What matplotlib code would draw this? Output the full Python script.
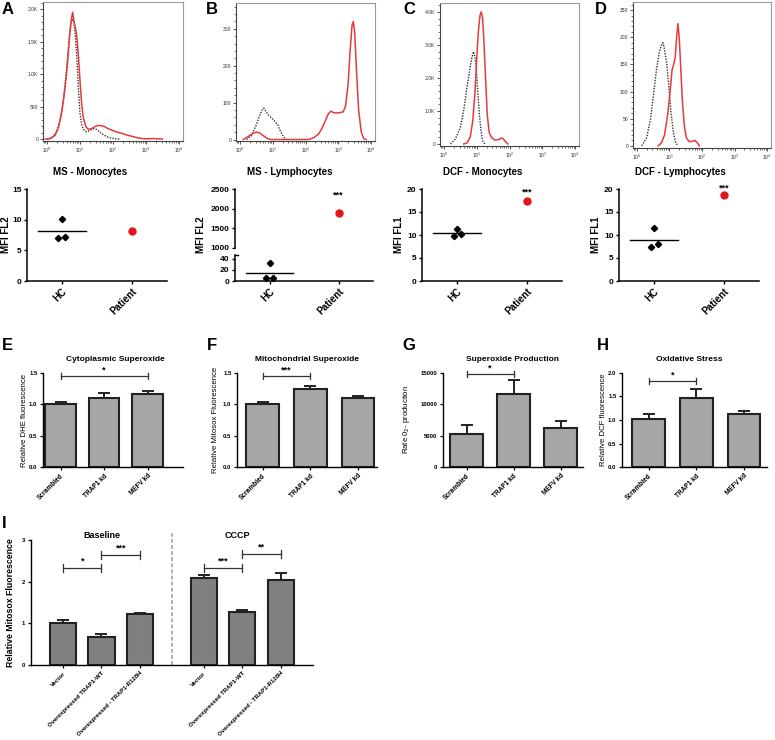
"""Multi-panel ROS figure: flow histograms, MFI dot plots and bar charts."""
import numpy as np
import matplotlib
matplotlib.use("Agg")
import matplotlib.pyplot as plt
from matplotlib.ticker import AutoMinorLocator, NullFormatter

# ---------------------------------------------------------------- data
# flow histograms: (log10 intensity, count)
a_black_log = [0.0, 0.15, 0.3, 0.4, 0.5, 0.58, 0.65, 0.7, 0.75, 0.8, 0.85, 0.9, 0.95, 1.0,
               1.05, 1.1, 1.2, 1.3, 1.4, 1.5, 1.6, 1.7, 1.8, 1.9, 2.0, 2.1, 2.2]
a_black_cnt = [0, 20, 120, 300, 600, 1000, 1400, 1700, 1850, 1820, 1650, 1300, 800, 400,
               220, 150, 110, 130, 160, 150, 110, 70, 40, 20, 10, 3, 0]
a_red_log = [-0.05, 0.1, 0.25, 0.35, 0.45, 0.55, 0.62, 0.68, 0.74, 0.78, 0.82, 0.86, 0.9,
             0.95, 1.0, 1.05, 1.1, 1.18, 1.25, 1.35, 1.45, 1.55, 1.65, 1.75, 1.85, 1.95,
             2.1, 2.25, 2.4, 2.55, 2.7, 2.85, 2.95, 3.05, 3.2, 3.35, 3.5]
a_red_cnt = [0, 5, 60, 180, 420, 800, 1150, 1550, 1850, 1950, 1800, 1720, 1600, 1300, 900,
             550, 330, 190, 150, 160, 190, 210, 205, 190, 160, 140, 110, 90, 65, 45, 25, 10,
             5, 3, 8, 4, 0]

b_black_log = [0.2, 0.35, 0.5, 0.6, 0.68, 0.73, 0.8, 0.88, 0.97, 1.06, 1.15, 1.25, 1.35, 1.42]
b_black_cnt = [0, 10, 40, 65, 80, 85, 75, 65, 58, 50, 40, 20, 5, 0]
b_red_log = [0.1, 0.25, 0.4, 0.5, 0.6, 0.72, 0.85, 0.95, 1.5, 2.1, 2.25, 2.4, 2.5, 2.6, 2.7,
             2.78, 2.85, 2.95, 3.05, 3.15, 3.22, 3.3, 3.36, 3.42, 3.46, 3.5, 3.56, 3.62,
             3.7, 3.78, 3.85]
b_red_cnt = [0, 8, 17, 20, 18, 10, 2, 0, 0, 0, 5, 15, 30, 50, 70, 77, 73, 72, 73, 75, 90,
             150, 240, 310, 320, 290, 180, 80, 20, 2, 0]

c_black_log = [0.2, 0.35, 0.5, 0.6, 0.7, 0.78, 0.85, 0.9, 0.94, 0.98, 1.03, 1.08, 1.13, 1.18, 1.25]
c_black_cnt = [0, 150, 500, 1000, 1700, 2200, 2600, 2800, 2650, 2400, 1600, 900, 400, 100, 0]
c_red_log = [0.6, 0.7, 0.8, 0.88, 0.95, 1.0, 1.05, 1.1, 1.14, 1.18, 1.22, 1.27, 1.32, 1.38,
             1.45, 1.55, 1.65, 1.75, 1.8, 1.87, 1.95]
c_red_cnt = [0, 30, 200, 700, 1600, 2600, 3400, 3900, 4000, 3800, 3100, 2000, 900, 350, 200,
             120, 130, 180, 170, 80, 0]

d_black_log = [0.15, 0.3, 0.42, 0.52, 0.6, 0.68, 0.75, 0.8, 0.84, 0.88, 0.92, 0.98, 1.05,
               1.12, 1.18, 1.25]
d_black_cnt = [0, 15, 50, 100, 140, 170, 185, 190, 180, 165, 150, 110, 60, 25, 8, 0]
d_red_log = [0.65, 0.75, 0.85, 0.95, 1.02, 1.08, 1.13, 1.18, 1.22, 1.26, 1.3, 1.35, 1.4,
             1.46, 1.52, 1.6, 1.7, 1.78, 1.85, 1.92]
d_red_cnt = [0, 5, 20, 60, 100, 140, 150, 165, 200, 225, 200, 140, 80, 35, 15, 8, 8, 10, 6, 0]

# MFI dot plots: healthy controls vs patient
groups = ["HC", "Patient"]
ms_mono_hc, ms_mono_pt = [10.1, 7.05, 7.2], 8.15
ms_lymph_hc, ms_lymph_pt = [33, 6, 6], 1900
dcf_mono_hc, dcf_mono_pt = [11.4, 9.8, 10.3], 17.5
dcf_lymph_hc, dcf_lymph_pt = [11.6, 7.3, 8.0], 18.7

# knockdown bar charts
kd_labels = ["Scrambled", "TRAP1 kd", "MEFV kd"]
dhe_mean, dhe_sem = [1.0, 1.1, 1.17], [0.04, 0.08, 0.05]
mitosox_mean, mitosox_sem = [1.0, 1.25, 1.10], [0.03, 0.04, 0.04]
superox_mean, superox_sem = [5300, 11700, 6200], [1400, 2200, 1100]
dcf_mean, dcf_sem = [1.03, 1.47, 1.12], [0.10, 0.19, 0.08]

# overexpression bar chart
oe_labels = ["Vector", "Overexpressed TRAP1-WT", "Overexpressed - TRAP1-R128H"]
baseline_mean, baseline_sem = [1.0, 0.68, 1.22], [0.07, 0.07, 0.04]
cccp_mean, cccp_sem = [2.08, 1.28, 2.04], [0.09, 0.05, 0.16]

# ---------------------------------------------------------------- style
W, H = 775, 740
C_RED = "#e23a3f"
C_DOT = "#e3141c"
C_BAR = "#a6a6a8"
C_BAR_I = "#808080"
C_EDGE = "#222222"
plt.rcParams.update({
    "font.family": ["Liberation Sans", "DejaVu Sans"],
    "axes.linewidth": 1.0,
    "xtick.direction": "out",
    "ytick.direction": "out",
})

fig = plt.figure(figsize=(W / 100, H / 100), dpi=100)


def px_axes(l, t, w, h):
    return fig.add_axes([l / W, 1 - (t + h) / H, w / W, h / H])


def fig_text(x, y, s, **kw):
    return fig.text(x / W, 1 - y / H, s, ha=kw.pop("ha", "center"),
                    va=kw.pop("va", "center"), **kw)


def histogram(ax, black, red, ylim, yticks, ytl):
    ax.plot(np.power(10.0, black[0]), black[1], color="#333333", ls=(0, (1, 1)), lw=1.0)
    ax.plot(np.power(10.0, red[0]), red[1], color=C_RED, lw=1.1)
    ax.set_xscale("log")
    ax.set_xlim(10 ** -0.12, 10 ** 4.12)
    ax.set_ylim(*ylim)
    ax.set_xticks([1, 10, 100, 1000, 10000])
    ax.xaxis.set_minor_formatter(NullFormatter())
    ax.set_yticks(yticks)
    ax.set_yticklabels(ytl)
    ax.yaxis.set_minor_locator(AutoMinorLocator(5))
    for sp in ax.spines.values():
        sp.set_color("#9a9a9a")
        sp.set_linewidth(0.8)
    ax.spines["left"].set_color("#444444")
    ax.spines["bottom"].set_color("#444444")
    ax.tick_params(labelsize=3.6, length=2, width=0.6, pad=1.5, colors="#333333")
    ax.tick_params(which="minor", length=1.1, width=0.4)


def dot_axes(ax, yticks):
    for s in ("top", "right"):
        ax.spines[s].set_visible(False)
    for s in ("left", "bottom"):
        ax.spines[s].set_linewidth(1.1)
    ax.set_xlim(-0.5, 1.5)
    ax.set_yticks(yticks)
    ax.tick_params(labelsize=6, length=2.5, width=1.0, pad=1.5)
    for lab in ax.get_yticklabels():
        lab.set_fontweight("bold")


def dot_xlabels(ax):
    ax.set_xticks([0, 1])
    ax.set_xticklabels(groups, rotation=45, ha="right", rotation_mode="anchor",
                       fontsize=7, fontweight="bold")


def hc_points(ax, hc):
    jit = np.array([0.0, -0.05, 0.05])
    ax.plot(jit, hc, ls="none", marker="D", ms=3.2, color="black", clip_on=False)
    m = np.mean(hc)
    ax.plot([-0.34, 0.34], [m, m], color="black", lw=1.0)


def stars(ax, x, y, s, size=6.5):
    ax.text(x, y, s, ha="center", va="center", fontsize=size, fontweight="bold",
            clip_on=False)


def bracket(ax, x1, x2, y, s, cap, size=6.5):
    ax.plot([x1, x2], [y, y], color="#333333", lw=0.9, clip_on=False)
    for xx in (x1, x2):
        ax.plot([xx, xx], [y - cap, y + cap], color="#333333", lw=0.9, clip_on=False)
    ax.text((x1 + x2) / 2, y + cap * 0.6, s, ha="center", va="bottom", fontsize=size,
            fontweight="bold", clip_on=False)


def bar_axes(ax, x, mean, sem, color, width):
    ax.bar(x, mean, width=width, color=color, edgecolor=C_EDGE, linewidth=1.5, zorder=2)
    ax.errorbar(x, mean, yerr=[np.zeros(len(sem)), sem], fmt="none", ecolor=C_EDGE,
                elinewidth=1.4, capsize=4, capthick=1.4, zorder=1)
    for s in ("top", "right"):
        ax.spines[s].set_visible(False)
    for s in ("left", "bottom"):
        ax.spines[s].set_linewidth(1.0)
    ax.tick_params(labelsize=4.3, length=2.5, width=0.9, pad=1.5)


# ---------------------------------------------------------------- row 1: histograms
ax = px_axes(43, 2, 140, 139)
histogram(ax, (a_black_log, a_black_cnt), (a_red_log, a_red_cnt), (-30, 2108),
          [0, 500, 1000, 1500, 2000], ["0", "500", "1.0K", "1.5K", "2.0K"])
ax = px_axes(236, 3, 139, 138)
histogram(ax, (b_black_log, b_black_cnt), (b_red_log, b_red_cnt), (-4, 370),
          [0, 100, 200, 300], ["0", "100", "200", "300"])
ax = px_axes(440, 3, 139, 143)
histogram(ax, (c_black_log, c_black_cnt), (c_red_log, c_red_cnt), (-60, 4270),
          [0, 1000, 2000, 3000, 4000], ["0", "1.0K", "2.0K", "3.0K", "4.0K"])
ax = px_axes(633, 2, 138, 146)
histogram(ax, (d_black_log, d_black_cnt), (d_red_log, d_red_cnt), (-4, 265),
          [0, 50, 100, 150, 200, 250], ["0", "50", "100", "150", "200", "250"])

# ---------------------------------------------------------------- row 2: MFI dot plots
ax = px_axes(27, 189, 140, 92)
dot_axes(ax, [0, 5, 10, 15])
ax.set_ylim(0, 15)
hc_points(ax, ms_mono_hc)
ax.plot([1], [ms_mono_pt], "o", color=C_DOT, ms=5)
dot_xlabels(ax)

# broken axis for MS - Lymphocytes
ax_up = px_axes(235, 189, 138, 59)
ax_lo = px_axes(235, 255, 138, 26)
dot_axes(ax_up, [1000, 1500, 2000, 2500])
dot_axes(ax_lo, [0, 20, 40])
ax_up.set_ylim(1000, 2500)
ax_lo.set_ylim(0, 47)
ax_up.spines["bottom"].set_visible(False)
ax_up.set_xticks([])
ax_up.plot([1], [ms_lymph_pt], "o", color=C_DOT, ms=5)
stars(ax_up, 1, 2340, "***")
hc_points(ax_lo, ms_lymph_hc)
dot_xlabels(ax_lo)
ax_lo.plot([-0.5, -0.46], [47, 47], color="black", lw=1.0, clip_on=False)

ax = px_axes(422, 189, 140, 92)
dot_axes(ax, [0, 5, 10, 15, 20])
ax.set_ylim(0, 20)
hc_points(ax, dcf_mono_hc)
ax.plot([1], [dcf_mono_pt], "o", color=C_DOT, ms=5)
stars(ax, 1, 19.4, "***")
dot_xlabels(ax)

ax = px_axes(619, 189, 140, 92)
dot_axes(ax, [0, 5, 10, 15, 20])
ax.set_ylim(0, 20)
hc_points(ax, dcf_lymph_hc)
ax.plot([1], [dcf_lymph_pt], "o", color=C_DOT, ms=5)
stars(ax, 1, 20.1, "***")
dot_xlabels(ax)

for x, s in ((90, "MS - Monocytes"), (290, "MS - Lymphocytes"),
             (483, "DCF - Monocytes"), (680, "DCF - Lymphocytes")):
    fig_text(x, 172, s, fontsize=7, fontweight="bold")
for x, s in ((6, "MFI FL2"), (201, "MFI FL2"), (399, "MFI FL1"), (596, "MFI FL1")):
    fig_text(x, 235, s, fontsize=7, fontweight="bold", rotation=90)

# ---------------------------------------------------------------- row 3: knockdown bars
kd_x = np.arange(len(kd_labels))
panels = [
    # left px, right px, first bar px, spacing px, mean, sem, ylim top, ticks, labels,
    # ylabel, ylabel px, title, title px, significance bracket
    (43, 183, 60.5, 43.5, dhe_mean, dhe_sem, 1.5, [0, 0.5, 1.0, 1.5],
     ["0.0", "0.5", "1.0", "1.5"], "Relative DHE fluorescence", 28,
     "Cytoplasmic Superoxide", 115, (0, 2, 1.45, "*")),
    (237, 377, 262.5, 47.75, mitosox_mean, mitosox_sem, 1.5, [0, 0.5, 1.0, 1.5],
     ["0.0", "0.5", "1.0", "1.5"], "Relative Mitosox Fluorescence", 219,
     "Mitochondrial Superoxide", 307, (0, 1, 1.45, "***")),
    (443, 583, 466.5, 47.0, superox_mean, superox_sem, 15000, [0, 5000, 10000, 15000],
     ["0", "5000", "10000", "15000"], "Rate 0$_2$- production", 412,
     "Superoxide Production", 512, (0, 1, 14800, "*")),
    (622, 767, 648.5, 47.75, dcf_mean, dcf_sem, 2.0, [0, 0.5, 1.0, 1.5, 2.0],
     ["0.0", "0.5", "1.0", "1.5", "2.0"], "Relative DCF fluorescence", 607,
     "Oxidative Stress", 689, (0, 1, 1.83, "*")),
]
for (l, r, c0, sp, mean, sem, ytop, yt, ytl, ylab, ylx, title, tx, sig) in panels:
    ax = px_axes(l, 373, r - l, 94)
    bar_axes(ax, kd_x, mean, sem, C_BAR, 0.69)
    ax.set_xlim((l - c0) / sp, (r - c0) / sp)
    ax.set_ylim(0, ytop)
    ax.set_yticks(yt)
    ax.set_yticklabels(ytl, fontweight="bold")
    ax.set_xticks(kd_x)
    ax.set_xticklabels(kd_labels, rotation=45, ha="right", rotation_mode="anchor",
                       fontsize=4.7, fontweight="bold")
    ax.set_ylabel(ylab, fontsize=5.6)
    ax.yaxis.set_label_coords((ylx - l) / (r - l), 0.5)
    bracket(ax, sig[0], sig[1], sig[2], sig[3], ytop * 0.03)
    fig_text(tx, 359, title, fontsize=6, fontweight="bold")

# ---------------------------------------------------------------- panel I
oe_x = np.arange(len(oe_labels))
cccp_x = oe_x + 3.65
ax = px_axes(31, 540, 282, 125)
bar_axes(ax, np.r_[oe_x, cccp_x], baseline_mean + cccp_mean, baseline_sem + cccp_sem,
         C_BAR_I, 0.675)
ax.set_xlim(-0.83, 6.49)
ax.set_ylim(0, 3)
ax.set_yticks([0, 1, 2, 3])
ax.set_yticklabels(["0", "1", "2", "3"], fontweight="bold")
ax.set_xticks(np.r_[oe_x, cccp_x])
ax.set_xticklabels(oe_labels * 2, rotation=45, ha="right", rotation_mode="anchor",
                   fontsize=4.3, fontweight="bold")
ax.axvline((oe_x[-1] + cccp_x[0]) / 2, ymin=0, ymax=1.06, color="#9a9a9a", lw=1.1,
           ls=(0, (2.5, 1.5)), clip_on=False)
ax.set_ylabel("Relative Mitosox Fluorescence", fontsize=6.3, fontweight="bold")
ax.yaxis.set_label_coords((15 - 31) / 282, 0.5)
cap = 0.09
bracket(ax, oe_x[0], oe_x[1], 2.33, "*", cap)
bracket(ax, oe_x[1], oe_x[2], 2.64, "***", cap)
bracket(ax, cccp_x[0], cccp_x[1], 2.33, "***", cap)
bracket(ax, cccp_x[1], cccp_x[2], 2.66, "**", cap)
fig_text(102, 535, "Baseline", fontsize=6.5, fontweight="bold")
fig_text(237, 535, "CCCP", fontsize=6.5, fontweight="bold")

# ---------------------------------------------------------------- panel letters
for x, y, s in ((8, 9, "A"), (212, 9, "B"), (409, 9, "C"), (601, 9, "D"),
                (7, 345, "E"), (212, 345, "F"), (409, 345, "G"), (603, 345, "H"),
                (4, 524, "I")):
    fig_text(x, y, s, fontsize=12, fontweight="bold")

fig.savefig("out.png", dpi=100)
